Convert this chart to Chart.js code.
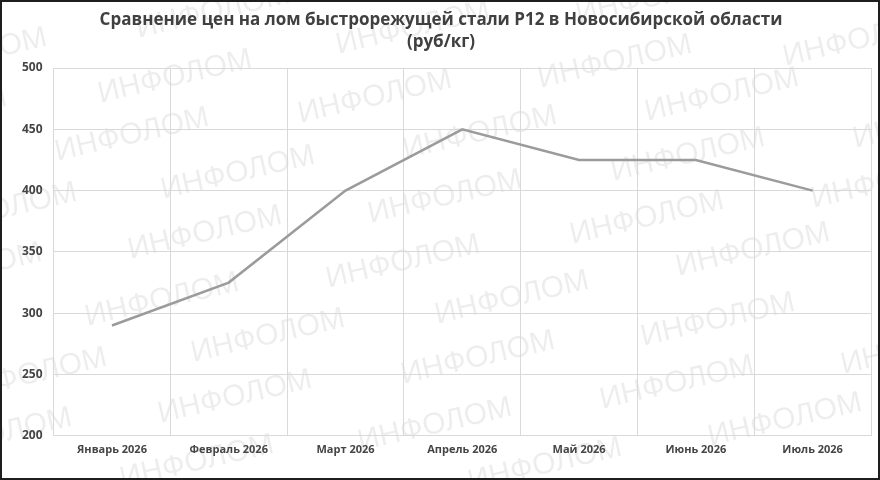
<!DOCTYPE html>
<html lang="ru">
<head>
<meta charset="utf-8">
<title>Сравнение цен на лом быстрорежущей стали Р12</title>
<script src="https://cdn.jsdelivr.net/npm/chart.js@4/dist/chart.umd.min.js"></script>
<style>
  html, body { margin: 0; padding: 0; background: #fff; }
  #frame { width: 876px; height: 476px; border: 2px solid #1e1e1e; position: relative; }
  #frame canvas { display: block; }
</style>
</head>
<body>
<div id="frame"><canvas id="priceChart" width="876" height="476"></canvas></div>
<script>
// Monthly scrap prices, rub/kg
const months = ['Январь 2026', 'Февраль 2026', 'Март 2026', 'Апрель 2026', 'Май 2026', 'Июнь 2026', 'Июль 2026'];
const prices = [290, 325, 400, 450, 425, 425, 400];

const yMin = 200;
const yMax = 500;
const yStep = 50;

const titleLines = ['Сравнение цен на лом быстрорежущей стали Р12 в Новосибирской области', '(руб/кг)'];

// Faint "ИНФОЛОМ" stamps scattered over the background (approximate centres)
const watermarkSpots = [
  [-30, 55], [-70, 115], [0, 210], [-35, 270], [30, 375], [-5, 435],
  [213, 12], [175, 77], [132, 135], [238, 173], [205, 233], [162, 300], [268, 336], [235, 397], [197, 462],
  [413, 28], [375, 97], [480, 133], [445, 197], [403, 262], [512, 298], [478, 358], [435, 425], [545, 465],
  [653, -2], [615, 62], [722, 95], [688, 155], [647, 218], [753, 250], [718, 320], [677, 383], [785, 420],
  [860, 40], [930, 122], [888, 182], [918, 348]
];

const watermark = {
  id: 'watermark',
  beforeDraw(chart) {
    const ctx = chart.ctx;
    ctx.save();
    ctx.fillStyle = '#ffffff';
    ctx.fillRect(0, 0, chart.width, chart.height);
    ctx.fillStyle = 'rgba(0,0,0,0.07)';
    ctx.font = '30px "Liberation Sans", Arial, sans-serif';
    ctx.textAlign = 'center';
    ctx.textBaseline = 'middle';
    watermarkSpots.forEach(([x, y]) => {
      ctx.save();
      ctx.translate(x - 2, y - 2);
      ctx.rotate(-13 * Math.PI / 180);
      ctx.fillText('ИНФОЛОМ', 0, 0);
      ctx.restore();
    });
    ctx.restore();
  }
};

const gridColor = '#d9d9d9';

new Chart(document.getElementById('priceChart').getContext('2d'), {
  type: 'line',
  data: {
    labels: months,
    datasets: [{
      data: prices,
      borderColor: '#9b9b9b',
      borderWidth: 2.5,
      pointRadius: 0,
      pointHoverRadius: 0,
      tension: 0,
      fill: false,
    }],
  },
  options: {
    responsive: false,
    animation: false,
    layout: { padding: { left: 9, right: 7, top: 0, bottom: 15 } },
    plugins: {
      legend: { display: false },
      tooltip: { enabled: false },
      title: {
        display: true,
        text: titleLines,
        color: '#404040',
        font: { family: '"Open Sans", sans-serif', size: 17, weight: 'bold', lineHeight: 1.25 },
        padding: { top: 8, bottom: 15.5 },
      },
    },
    scales: {
      x: {
        offset: true,
        grid: { offset: true, color: gridColor, drawTicks: false },
        border: { color: gridColor },
        ticks: {
          color: '#454545', padding: 7, maxRotation: 0,
          font: { family: '"Open Sans", sans-serif', size: 11, weight: 'bold' },
        },
      },
      y: {
        min: yMin,
        max: yMax,
        grid: { color: gridColor, drawTicks: false },
        border: { color: gridColor },
        ticks: {
          stepSize: yStep, color: '#454545', padding: 11,
          font: { family: '"Open Sans", sans-serif', size: 12, weight: 'bold' },
        },
      },
    },
  },
  plugins: [watermark],
});
</script>
</body>
</html>
